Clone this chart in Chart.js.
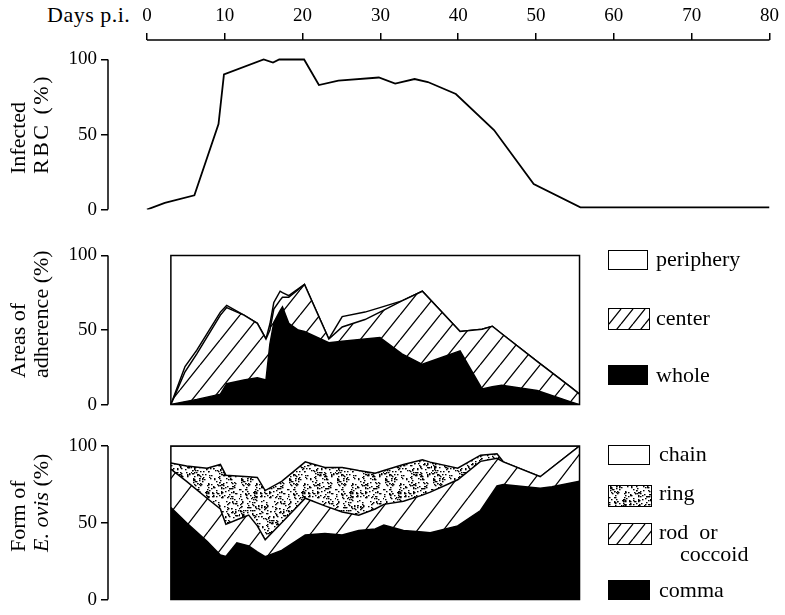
<!DOCTYPE html>
<html>
<head>
<meta charset="utf-8">
<script src="https://cdn.jsdelivr.net/npm/chart.js@4.4.1/dist/chart.umd.min.js"></script>
<style>
  body { margin: 0; background: #fff; }
  #wrap { position: relative; width: 785px; height: 615px; font-family: "Liberation Serif", "Times New Roman", serif; color: #000; }
  canvas.panel { position: absolute; left: 0; }
  .ytitle { position: absolute; transform: rotate(-90deg); transform-origin: left top; white-space: nowrap;
            font-size: 22px; line-height: 23px; }
  .wide { letter-spacing: 2.5px; }
  .leg { position: absolute; font-size: 22px; line-height: 22px; }
  .sw { position: absolute; border: 1.5px solid #000; box-sizing: border-box; }
</style>
</head>
<body>
<div id="wrap">
  <div style="position:absolute;left:47px;top:2px;font-size:22px;letter-spacing:0.5px;">Days p.i.</div>

  <canvas class="panel" id="rbcChart" width="785" height="225" style="top:0"></canvas>
  <canvas class="panel" id="areaChart" width="785" height="180" style="top:240px"></canvas>
  <canvas class="panel" id="formChart" width="785" height="185" style="top:430px"></canvas>

  <div class="ytitle" style="left:6px;top:174px">Infected<br><span class="wide">RBC (%)</span></div>
  <div class="ytitle" style="left:6px;top:378px">Areas of<br>adherence (%)</div>
  <div class="ytitle" style="left:6px;top:552px">Form of<br><i>E. ovis</i> (%)</div>

  <!-- legend, areas of adherence -->
  <div class="sw" style="left:608px;top:250px;width:40px;height:20px;background:#fff"></div>
  <div class="leg" style="left:656px;top:248px">periphery</div>
  <canvas class="sw" id="swCenter" width="40" height="20" style="left:608px;top:308px"></canvas>
  <div class="leg" style="left:656px;top:307px">center</div>
  <div class="sw" style="left:608px;top:365px;width:40px;height:20px;background:#000"></div>
  <div class="leg" style="left:656px;top:364px">whole</div>

  <!-- legend, form of E. ovis -->
  <div class="sw" style="left:608px;top:445px;width:42px;height:20px;background:#fff"></div>
  <div class="leg" style="left:659px;top:443px">chain</div>
  <canvas class="sw" id="swRing" width="42" height="20" style="left:608px;top:485px"></canvas>
  <div class="leg" style="left:659px;top:482px">ring</div>
  <canvas class="sw" id="swRod" width="42" height="20" style="left:608px;top:523px"></canvas>
  <div class="leg" style="left:659px;top:521px">rod&nbsp; or<br><span style="padding-left:21px">coccoid</span></div>
  <div class="sw" style="left:608px;top:580px;width:42px;height:20px;background:#000"></div>
  <div class="leg" style="left:659px;top:579px">comma</div>
</div>

<script>
// Top axis ticks (days p.i.)
const dayTicks = [0, 10, 20, 30, 40, 50, 60, 70, 80];
const pctTicks = [0, 50, 100];

// Infected RBC (%)
const rbcDays = [0, 2.3, 6.1, 9.2, 9.9, 15, 16.2, 17, 20.2, 22.1, 24.6, 29.8, 31.9, 34.4, 36.1, 39.7, 44.6, 49.7, 55.7, 80];
const rbcValues = [0, 4.5, 9.5, 57, 90, 100, 98, 100, 100, 83, 86, 88, 84, 87, 85, 77, 53, 17, 1.5, 1.5];

// Areas of adherence (%) - stacked whole / center / periphery
const areaDays = [3, 4.8, 6.3, 9.3, 10.1, 12.3, 14, 15.1, 15.6, 16.1, 16.9, 17.2, 18, 19.2, 20, 23.1, 24.8, 27.7, 29.6, 32.4, 35, 39.8, 42.6, 43.9, 45.1, 49.6, 53.8, 55];
const whole = [0, 2, 3.5, 7, 14, 16.5, 18, 16.5, 40.5, 55, 63, 65.5, 54.5, 50, 49, 41.5, 42.5, 44, 45, 34, 27, 36, 10.5, 12, 13, 9.5, 2, 0];
const center = [0, 20, 30.5, 53, 51, 43.5, 36.5, 27.5, 9.5, 9, 7, 6.5, 17.5, 27, 31.5, 2.5, 9.5, 13, 17, 35.5, 49, 13, 40, 40.5, 34.5, 19.5, 10, 7];
const periphery = [0, 3.5, 2.5, 2, 1.5, 0, 0, 0, 4, 4.5, 6, 3, 1, 0.5, 0, 0, 7, 5, 3, 0, 0, 0, 0, 0, 0, 0, 0, 0];

// Form of E. ovis (%) - stacked comma / rod or coccoid / ring / chain
const formDays = [3, 5, 7.6, 9.3, 10, 11.4, 12.9, 14, 15, 17.1, 20.1, 22.6, 24.8, 26.9, 29, 30.1, 32.6, 35, 36, 39.5, 42.4, 44.5, 45.3, 50, 51.5, 55];
const comma = [60, 50, 38, 29, 28, 37, 35, 31, 28, 32, 42, 43, 42, 45, 46, 48.5, 45, 44, 43.5, 48, 58, 74, 75, 72.5, 73.5, 77];
const rod = [25, 27, 28, 30, 21, 15, 20, 17, 11, 18, 24, 18, 15, 10, 13, 13.5, 19, 24, 26.5, 30, 32, 18, 14.7, 7.5, 12.5, 23];
const ring = [4, 10, 19.5, 29, 32, 28.5, 25, 31.5, 32, 27, 23.7, 25, 29, 29, 23.3, 22, 24, 23, 19.5, 7.5, 4, 3, 0, 0, 0, 0];
const chain = [11, 13, 14.5, 12, 19, 19.5, 20, 20.5, 29, 23, 10.3, 14, 14, 16, 17.7, 16, 12, 9, 10.5, 14.5, 6, 5, 10.3, 20, 14, 0];

// period covered by the boxed panels
const boxDays = [3, 55];

Chart.defaults.font.family = '"Liberation Serif", "Times New Roman", serif';
Chart.defaults.color = '#000';

// hatch "/" tile, w = horizontal spacing
function hatch(w, h) {
  const c = document.createElement('canvas');
  c.width = w; c.height = h;
  const g = c.getContext('2d');
  g.fillStyle = '#fff'; g.fillRect(0, 0, w, h);
  g.strokeStyle = '#000'; g.lineWidth = 1.3;
  g.beginPath();
  for (const s of [-w, 0, w]) { g.moveTo(s, h); g.lineTo(s + w, 0); }
  g.stroke();
  return c;
}

// stipple tile for "ring" (fixed xorshift hash, texture only)
function stipple() {
  const n = 48;
  const c = document.createElement('canvas');
  c.width = n; c.height = n;
  const g = c.getContext('2d');
  g.fillStyle = '#fff'; g.fillRect(0, 0, n, n);
  g.fillStyle = '#000';
  let h = 2463534242;
  const next = () => { h ^= h << 13; h ^= h >>> 17; h ^= h << 5; return (h >>> 0) / 4294967296; };
  for (let i = 0; i < 330; i++) {
    g.fillRect(Math.floor(next() * n), Math.floor(next() * n), 1.5, 1.3);
  }
  return c;
}

const ctxTmp = document.createElement('canvas').getContext('2d');
const hatchMid = ctxTmp.createPattern(hatch(20, 25), 'repeat');
const hatchLow = ctxTmp.createPattern(hatch(26, 34), 'repeat');
const dots = ctxTmp.createPattern(stipple(), 'repeat');

// legend swatches
function fillSwatch(id, tile) {
  const cv = document.getElementById(id);
  const g = cv.getContext('2d');
  g.fillStyle = g.createPattern(tile, 'repeat');
  g.fillRect(0, 0, cv.width, cv.height);
}
fillSwatch('swCenter', hatch(12, 15));
fillSwatch('swRod', hatch(12, 15));
fillSwatch('swRing', stipple());

// axis lines and the panel box
const frame = {
  id: 'frame',
  afterDatasetsDraw(chart, args, opts) {
    const { ctx, chartArea, scales: { x, y } } = chart;
    ctx.save();
    ctx.strokeStyle = '#000';
    ctx.lineWidth = 1.5;
    ctx.beginPath();
    ctx.moveTo(chartArea.left, y.getPixelForValue(0));
    ctx.lineTo(chartArea.left, y.getPixelForValue(100));
    if (opts.topAxis) {
      ctx.moveTo(x.getPixelForValue(0), chartArea.top);
      ctx.lineTo(x.getPixelForValue(80), chartArea.top);
    }
    if (opts.box) {
      const l = x.getPixelForValue(boxDays[0]), r = x.getPixelForValue(boxDays[1]);
      const t = y.getPixelForValue(100), b = y.getPixelForValue(0);
      ctx.rect(l, t, r - l, b - t);
    }
    ctx.stroke();
    ctx.restore();
  }
};

function yScale(max, stacked) {
  return {
    min: 0, max: max, stacked: stacked,
    afterBuildTicks: s => { s.ticks = pctTicks.map(v => ({ value: v })); },
    afterFit: s => { s.width = 108; },
    border: { display: false },
    grid: { drawOnChartArea: false, tickLength: 7, color: '#000', lineWidth: 1.5 },
    ticks: { font: { size: 19 }, padding: 4 }
  };
}

function xScale(top) {
  return {
    type: 'linear', min: -5, max: 80,
    position: top ? 'top' : 'bottom',
    display: top,
    afterBuildTicks: s => { s.ticks = dayTicks.map(v => ({ value: v })); },
    afterFit: s => { if (top) s.height = 40; },
    border: { display: false },
    grid: { drawOnChartArea: false, tickLength: 7, color: '#000', lineWidth: 1.5 },
    ticks: { font: { size: 19 }, padding: 6, maxRotation: 0 }
  };
}

function pts(days, vals) {
  return days.map((d, i) => ({ x: d, y: vals[i] }));
}

function layer(days, vals, bg, first) {
  return {
    data: pts(days, vals),
    backgroundColor: bg,
    borderColor: '#000',
    borderWidth: 1.5,
    pointRadius: 0,
    fill: first ? 'origin' : '-1'
  };
}

const common = {
  responsive: false,
  animation: false,
  plugins: { legend: { display: false }, tooltip: { enabled: false } },
  elements: { line: { tension: 0 } }
};

// Infected RBC
new Chart(document.getElementById('rbcChart'), {
  type: 'line',
  data: {
    datasets: [{
      data: pts(rbcDays, rbcValues),
      borderColor: '#000',
      borderWidth: 1.8,
      pointRadius: 0,
      fill: false
    }]
  },
  options: {
    ...common,
    layout: { padding: { left: 0, right: 9, top: 0, bottom: 12 } },
    plugins: { ...common.plugins, frame: { topAxis: true } },
    scales: { x: xScale(true), y: yScale(113, false) }
  },
  plugins: [frame]
});

// Areas of adherence
new Chart(document.getElementById('areaChart'), {
  type: 'line',
  data: {
    datasets: [
      layer(areaDays, whole, '#000', true),
      layer(areaDays, center, hatchMid, false),
      layer(areaDays, periphery, '#fff', false)
    ]
  },
  options: {
    ...common,
    layout: { padding: { left: 0, right: 9, top: 14, bottom: 11 } },
    plugins: { ...common.plugins, frame: { box: true } },
    scales: { x: xScale(false), y: yScale(100, true) }
  },
  plugins: [frame]
});

// Form of E. ovis
new Chart(document.getElementById('formChart'), {
  type: 'line',
  data: {
    datasets: [
      layer(formDays, comma, '#000', true),
      layer(formDays, rod, hatchLow, false),
      layer(formDays, ring, dots, false),
      layer(formDays, chain, '#fff', false)
    ]
  },
  options: {
    ...common,
    layout: { padding: { left: 0, right: 9, top: 16, bottom: 14 } },
    plugins: { ...common.plugins, frame: { box: true } },
    scales: { x: xScale(false), y: yScale(100, true) }
  },
  plugins: [frame]
});
</script>
</body>
</html>
